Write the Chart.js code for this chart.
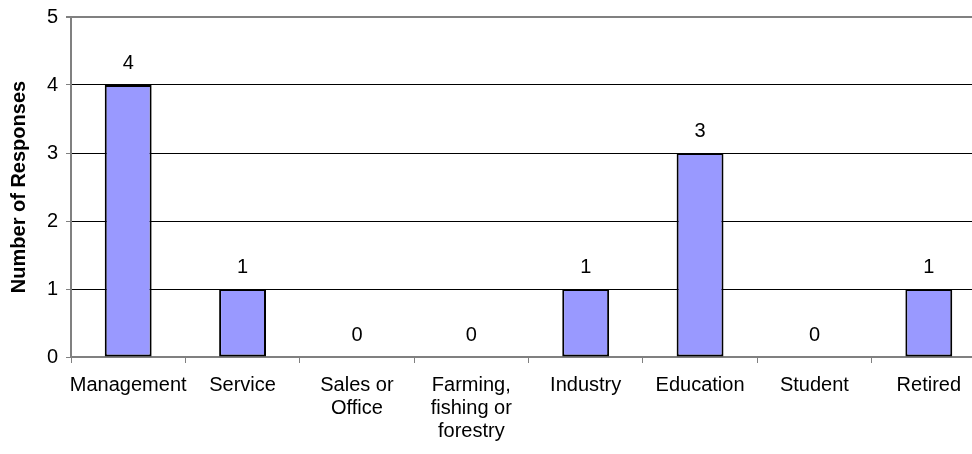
<!DOCTYPE html>
<html>
<head>
<meta charset="utf-8">
<script src="https://cdn.jsdelivr.net/npm/chart.js@4"></script>
<style>
  html, body { margin: 0; padding: 0; overflow: hidden; background: #fff; }
  #wrap { width: 990px; height: 454px; }
</style>
</head>
<body>
<div id="wrap"><canvas id="occupation"></canvas></div>
<script>
var categories = ["Management", "Service", ["Sales or", "Office"], ["Farming,", "fishing or", "forestry"],
                  "Industry", "Education", "Student", "Retired"];
var responses = [4, 1, 0, 0, 1, 3, 0, 1];
var yTicks = [0, 1, 2, 3, 4, 5];

Chart.defaults.font.family = "'Liberation Sans', Arial, sans-serif";
Chart.defaults.font.size = 20;
Chart.defaults.font.lineHeight = 1.15;
Chart.defaults.color = '#000';

// value labels above each bar, zeros included
var valueLabels = {
    id: 'valueLabels',
    afterDatasetsDraw: function(chart) {
        var ctx = chart.ctx;
        var meta = chart.getDatasetMeta(0);
        ctx.save();
        ctx.font = "20px 'Liberation Sans', Arial, sans-serif";
        ctx.fillStyle = '#000';
        ctx.textAlign = 'center';
        ctx.textBaseline = 'alphabetic';
        meta.data.forEach(function(bar, i) {
            ctx.fillText(String(responses[i]), bar.x, bar.y - 16);
        });
        ctx.restore();
    }
};

var ctx = document.getElementById('occupation').getContext('2d');
var chart = new Chart(ctx, {
    type: 'bar',
    data: {
        labels: categories,
        datasets: [{
            label: "Responses",
            data: responses,
            backgroundColor: '#9999FF',
            borderColor: '#000',
            borderWidth: 2,
            borderSkipped: false,
            categoryPercentage: 1.0,
            barPercentage: 0.41
        }]
    },
    options: {
        responsive: true,
        maintainAspectRatio: false,
        animation: false,
        layout: { padding: { top: 17, right: 4, left: 0, bottom: 0 } },
        plugins: {
            legend: { display: false },
            tooltip: { enabled: false }
        },
        scales: {
            x: {
                offset: true,
                border: { color: '#808080', width: 2 },
                grid: {
                    offset: true,
                    drawOnChartArea: false,
                    drawTicks: true,
                    tickLength: 6,
                    color: '#808080'
                },
                ticks: {
                    autoSkip: false,
                    maxRotation: 0,
                    minRotation: 0,
                    padding: 11,
                    color: '#000'
                },
                afterFit: function(scale) { scale.height = 97; }
            },
            y: {
                min: 0,
                max: 5,
                afterBuildTicks: function(scale) {
                    scale.ticks = yTicks.map(function(v) { return { value: v }; });
                },
                border: { color: '#808080', width: 2 },
                grid: {
                    color: function(c) { return c.tick && c.tick.value === 5 ? '#808080' : '#000'; },
                    lineWidth: function(c) { return c.tick && c.tick.value === 5 ? 2 : 1; },
                    tickColor: '#808080',
                    tickLength: 5
                },
                ticks: { padding: 8, color: '#000', font: { lineHeight: 0.6 } },
                title: {
                    display: true,
                    text: 'Number of Responses',
                    font: { weight: 'bold', size: 20 },
                    color: '#000',
                    padding: { top: 8, bottom: 0 }
                },
                afterFit: function(scale) { scale.width = 71; }
            }
        }
    },
    plugins: [valueLabels]
});
</script>
</body>
</html>
